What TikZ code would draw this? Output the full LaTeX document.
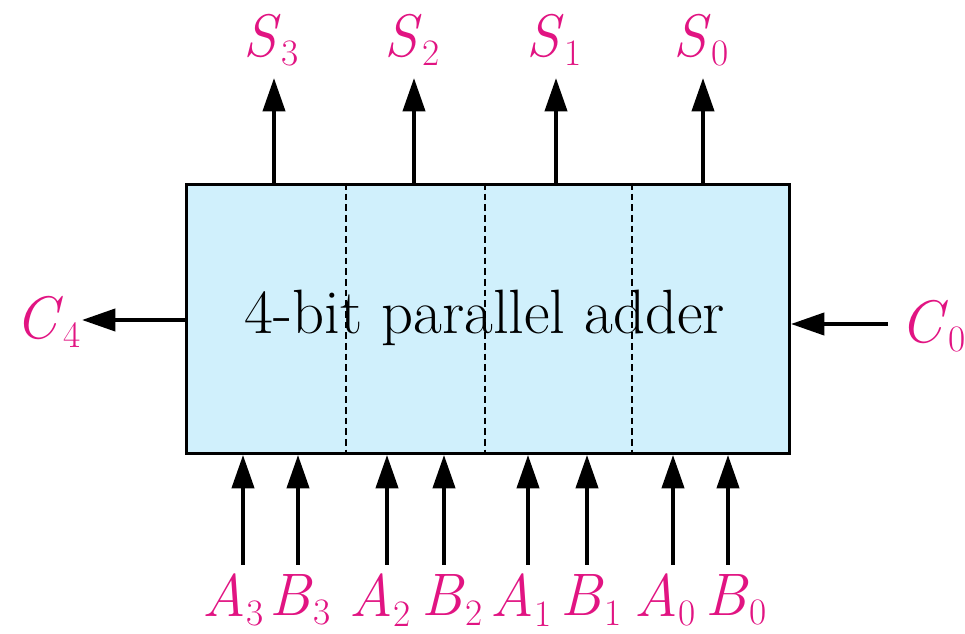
\documentclass[tikz,border=0pt]{standalone}
\usepackage{fontspec}
\usetikzlibrary{arrows.meta}
\definecolor{lblmag}{RGB}{225,20,130}
\definecolor{boxfill}{RGB}{208,240,252}
\newcommand\sublbl[2]{\textit{#1}\raisebox{-7pt}{\fontsize{28}{28}\selectfont #2}}
\begin{document}
\begin{tikzpicture}[x=0.75pt,y=-0.75pt]
\useasboundingbox (0,0) rectangle (965,634);
\tikzset{
  sig/.style={line width=3pt,-{Triangle[length=25pt,width=16.5pt]}},
  lbl/.style={text=lblmag,inner sep=0pt,font=\rmfamily\fontsize{45}{45}\selectfont},
  divline/.style={line width=0.8pt,dash pattern=on 5pt off 3pt}}
\node[draw,line width=2.2pt,fill=boxfill,minimum width=603*0.75pt,minimum height=269*0.75pt,inner sep=0pt,anchor=north west] (box) at (185,183) {};
\draw[divline] (346,183) -- (346,452);
\draw[divline] (485,183) -- (485,452);
\draw[divline] (632,183) -- (632,452);
\node[inner sep=0pt,font=\rmfamily\fontsize{47}{47}\selectfont] (title) at (485,318) {4-bit parallel adder};
% outputs
\coordinate (s3t) at (274,78);
\coordinate (s2t) at (414,78);
\coordinate (s1t) at (556,78);
\coordinate (s0t) at (703,78);
\draw[sig] (s3t |- box.north) -- (s3t);
\draw[sig] (s2t |- box.north) -- (s2t);
\draw[sig] (s1t |- box.north) -- (s1t);
\draw[sig] (s0t |- box.north) -- (s0t);
\node[lbl] (S3) at (271,40) {\sublbl{S}{3}};
\node[lbl] (S2) at (412,40) {\sublbl{S}{2}};
\node[lbl] (S1) at (554,40) {\sublbl{S}{1}};
\node[lbl] (S0) at (701,40) {\sublbl{S}{0}};
% carries
\coordinate (c4t) at (82,320);
\coordinate (c0s) at (888,324);
\draw[sig] (box.west |- c4t) -- (c4t);
\draw[sig] (c0s) -- (box.east |- c0s);
\node[lbl] (C4) at (48,322) {\sublbl{C}{4}};
\node[lbl] (C0) at (933,326) {\sublbl{C}{0}};
% inputs
\foreach \n/\x in {a3/243,b3/298,a2/387,b2/444,a1/528,b1/587,a0/673,b0/728}
  \coordinate (\n) at (\x,565);
\foreach \n in {a3,b3,a2,b2,a1,b1,a0,b0}
  \draw[sig] (\n) -- (\n |- box.south);
\node[lbl] (A3) at (233,600) {\sublbl{A}{3}};
\node[lbl] (B3) at (300,600) {\sublbl{B}{3}};
\node[lbl] (A2) at (380,600) {\sublbl{A}{2}};
\node[lbl] (B2) at (452,600) {\sublbl{B}{2}};
\node[lbl] (A1) at (521,600) {\sublbl{A}{1}};
\node[lbl] (B1) at (591,600) {\sublbl{B}{1}};
\node[lbl] (A0) at (665,600) {\sublbl{A}{0}};
\node[lbl] (B0) at (736,600) {\sublbl{B}{0}};
\end{tikzpicture}
\end{document}
